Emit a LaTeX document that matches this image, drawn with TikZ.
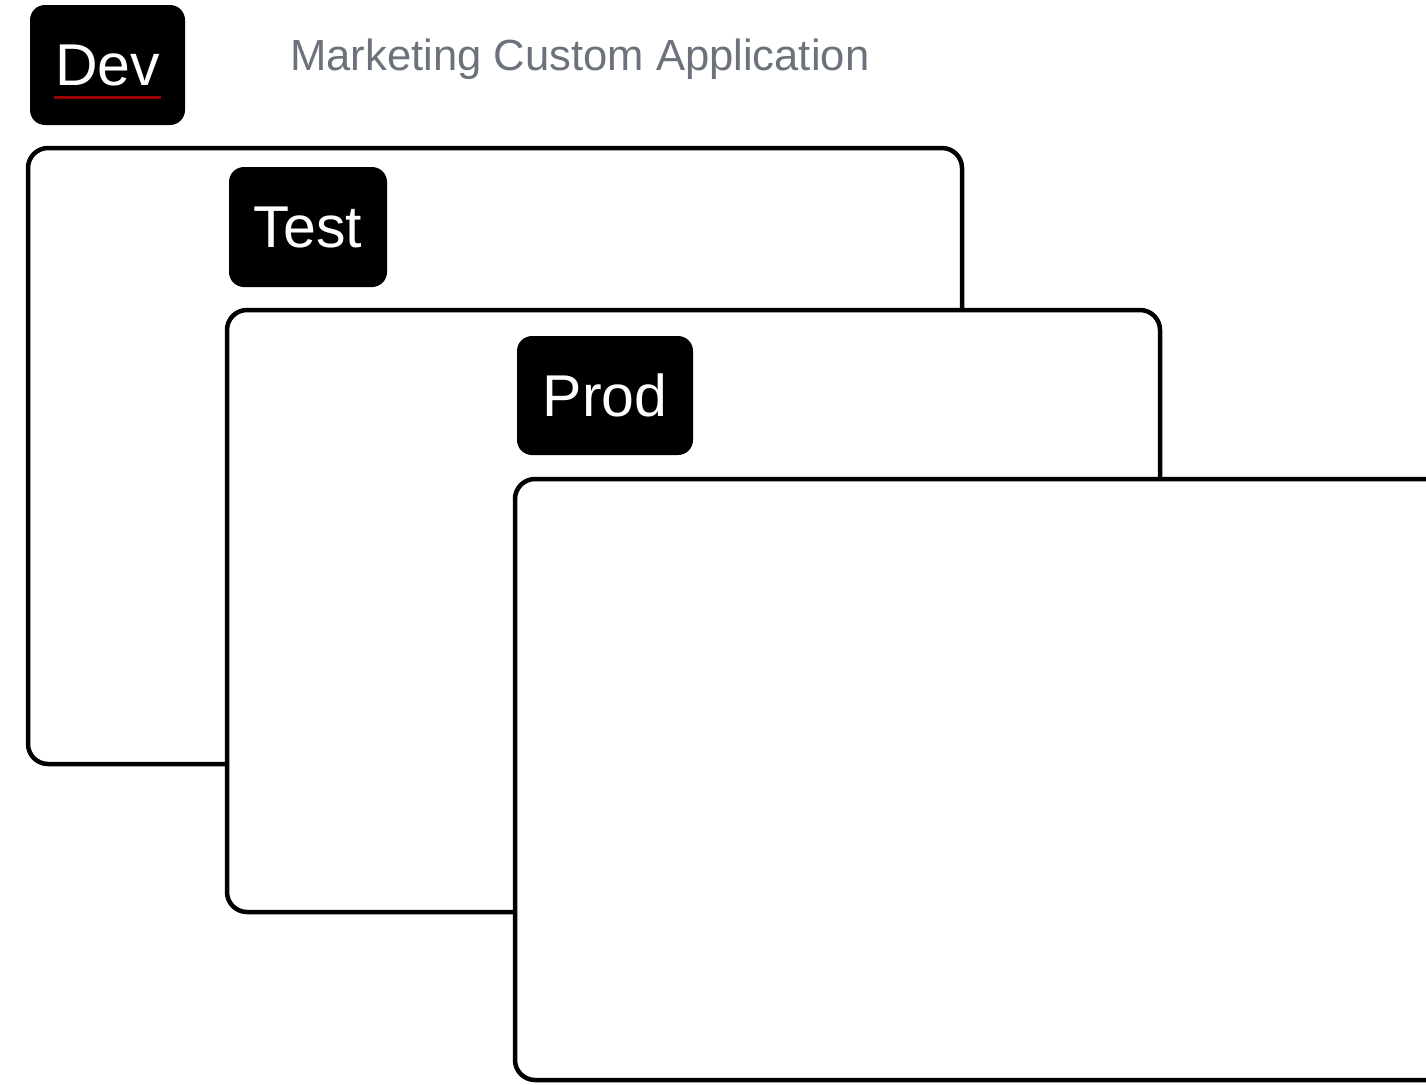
\documentclass[tikz,border=0pt]{standalone}
\usepackage{fontspec}
\setmainfont{Liberation Sans}
\definecolor{titlegray}{RGB}{108,114,124}
\definecolor{spellred}{RGB}{150,0,0}
\begin{document}
\begin{tikzpicture}[x=1pt,y=-1pt,
  panel/.style={draw=black, line width=4.5pt, rounded corners=20pt, fill=white, inner sep=0pt},
  envtag/.style={fill=black, rounded corners=15pt, text=white, inner sep=0pt,
    font=\fontsize{59}{62}\selectfont},
  titletext/.style={text=titlegray, inner sep=0pt, font=\fontsize{43.6}{50}\selectfont}]
\useasboundingbox (0,0) rectangle (1426,1084);
\clip (0,0) rectangle (1426,1084);
% title
\node[titletext, anchor=base west] (title) at (290,70) {Marketing Custom Application};
% Dev tag
\node[envtag, minimum width=155pt, minimum height=120pt] (dev) at (107.5,65) {Dev};
\coordinate (ulA) at (54,97.5);
\coordinate (ulB) at (161,97.5);
\draw[spellred, line width=3.5pt] (ulA) -- (ulB);
% panel 1 and Test
\node[panel, minimum width=934pt, minimum height=616pt] (p1) at (495,456) {};
\node[envtag, minimum width=158pt, minimum height=120pt] (test) at (308,227) {Test};
% panel 2 and Prod
\node[panel, minimum width=933pt, minimum height=602pt] (p2) at (693.5,611) {};
\node[envtag, minimum width=176pt, minimum height=119pt] (prod) at (605,395.5) {Prod};
% panel 3
\node[panel, minimum width=960pt, minimum height=601pt] (p3) at (995,779.5) {};
\end{tikzpicture}
\end{document}
